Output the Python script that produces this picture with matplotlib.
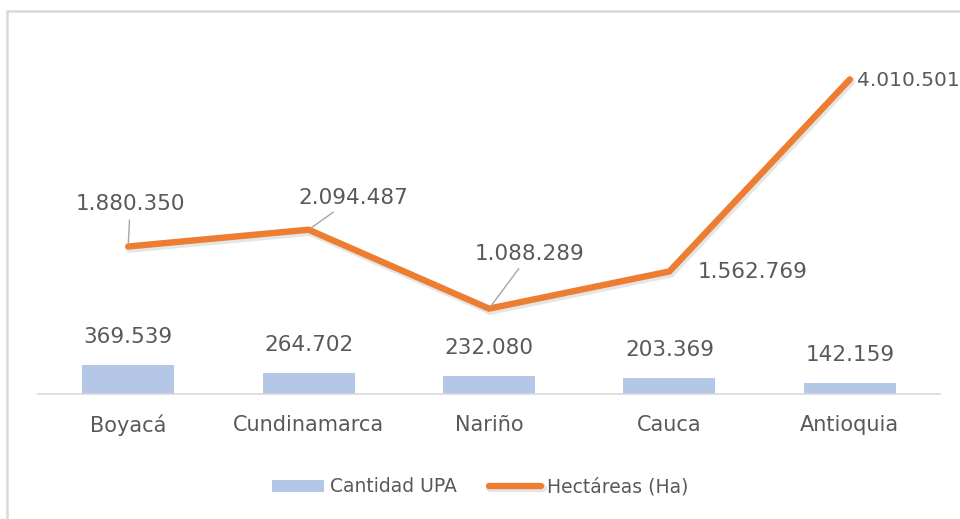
import matplotlib.pyplot as plt
import matplotlib.patheffects as pe
import numpy as np

departamentos = ["Boyacá", "Cundinamarca", "Nariño", "Cauca", "Antioquia"]
cantidad_upa = [369539, 264702, 232080, 203369, 142159]
hectareas = [1880350, 2094487, 1088289, 1562769, 4010501]


def fmt(v):
    return f"{v:,}".replace(",", ".")


BAR, LINE = "#b4c7e7", "#ed7d31"
TXT, AXIS, LEAD = "#595959", "#d9d9d9", "#a6a6a6"

plt.rcParams["font.family"] = ["DejaVu Sans"]

fig = plt.figure(figsize=(9.6, 5.19), dpi=100)
W, H = 960, 519
ax = fig.add_axes([38 / W, (H - 394) / H, (940 - 38) / W, (394 - 41) / H])

x = np.arange(len(departamentos))
bars = ax.bar(x, cantidad_upa, width=0.51, color=BAR, zorder=2, label="Cantidad UPA")
line, = ax.plot(x, hectareas, color=LINE, lw=4.6, solid_capstyle="round",
                solid_joinstyle="miter", zorder=3, label="Hectáreas (Ha)",
                path_effects=[pe.SimpleLineShadow(offset=(1, -1.5), alpha=0.1,
                                                  shadow_color="k", linewidth=6),
                              pe.Normal()])

ax.set_xlim(-0.5, len(x) - 0.5)
ax.set_ylim(0, 4.5e6)
ax.set_yticks([])
ax.set_xticks(x, departamentos, fontsize=15, color=TXT)
ax.tick_params(axis="x", length=0, pad=15)
for s in ["top", "right", "left"]:
    ax.spines[s].set_visible(False)
ax.spines["bottom"].set_color(AXIS)
ax.spines["bottom"].set_linewidth(1.2)

# bar labels
for xi, v in zip(x, cantidad_upa):
    ax.annotate(fmt(v), (xi, v), xytext=(0, 28), textcoords="offset pixels",
                ha="center", va="center", fontsize=15.5, color=TXT)

# line labels (offsets in pixels, some with leader lines)
offs = [(2, 42, "center", True, 15.5), (45, 32, "center", True, 15.5),
        (41, 55, "center", True, 15.5), (28, -1, "left", False, 15.5),
        (7, -1, "left", False, 14.5)]
for xi, v, (dx, dy, ha, lead, fs) in zip(x, hectareas, offs):
    kw = {}
    if lead:
        kw["arrowprops"] = dict(arrowstyle="-", color=LEAD, lw=1.0, shrinkA=2, shrinkB=2)
    ax.annotate(fmt(v), (xi, v), xytext=(dx, dy), textcoords="offset pixels",
                ha=ha, va="center", fontsize=fs, color=TXT, annotation_clip=False, **kw)

fig.legend([bars, line], ["Cantidad UPA", "Hectáreas (Ha)"], loc="center",
           bbox_to_anchor=(0.5, 1 - 487 / H), ncol=2, frameon=False,
           fontsize=13.5, labelcolor=TXT, handlelength=2.8, handleheight=0.55,
           handletextpad=0.3, columnspacing=1.7)

# chart border
fig.add_artist(plt.Rectangle((7 / W, -0.1), 1.2, 1 - 11 / H + 0.1, transform=fig.transFigure,
                             fill=False, edgecolor=AXIS, lw=1.8))

fig.savefig("out.png", dpi=100, facecolor="white")
